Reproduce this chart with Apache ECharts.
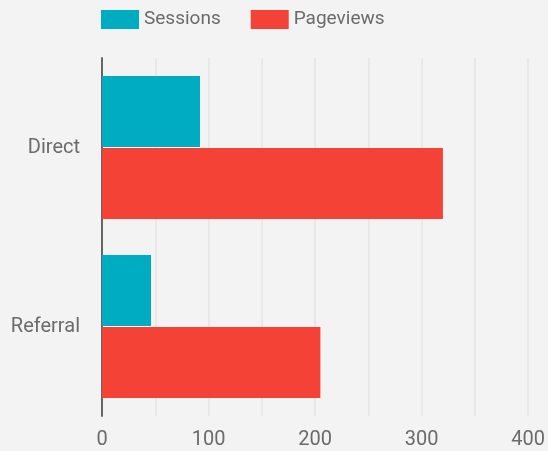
<!DOCTYPE html>
<html>
<head>
<meta charset="utf-8">
<script src="https://cdn.jsdelivr.net/npm/echarts@6/dist/echarts.min.js"></script>
<style>
html,body{margin:0;padding:0;background:#f3f3f3;}
#c{width:548px;height:451px;}
</style>
</head>
<body>
<div id="c"></div>
<script>
const categories = ['Direct', 'Referral'];
const sessions = [92, 46];
const pageviews = [320, 205];

const chart = echarts.init(document.getElementById('c'));
chart.setOption({
  backgroundColor: '#f3f3f3',
  animation: false,
  textStyle: { fontFamily: 'Roboto' },
  legend: {
    left: 96, top: 5,
    itemWidth: 38, itemHeight: 19, itemGap: 30,
    icon: 'rect',
    textStyle: { fontSize: 19, color: '#6b6b6b', fontFamily: 'Roboto' },
    data: ['Sessions', 'Pageviews']
  },
  grid: { left: 102, right: 17, top: 58, bottom: 35, containLabel: false },
  xAxis: {
    type: 'value', min: 0, max: 400, interval: 50,
    axisLine: { show: false }, axisTick: { show: false },
    axisLabel: {
      fontSize: 20, color: '#6b6b6b', margin: 14, fontFamily: 'Roboto',
      formatter: v => (v % 100 === 0 ? String(v) : '')
    },
    splitLine: { lineStyle: { color: '#e5e5e5', width: 1.5 } }
  },
  yAxis: {
    type: 'category', data: categories, inverse: true,
    axisLine: { lineStyle: { color: '#666', width: 2 } },
    axisTick: { show: false },
    axisLabel: { fontSize: 20, color: '#6b6b6b', margin: 22, fontFamily: 'Roboto' },
    splitLine: { show: false }
  },
  series: [
    { name: 'Sessions', type: 'bar', data: sessions, barGap: '1.5%', barCategoryGap: '20%',
      itemStyle: { color: '#00acc1' } },
    { name: 'Pageviews', type: 'bar', data: pageviews, barGap: '1.5%', barCategoryGap: '20%',
      itemStyle: { color: '#f44336' } }
  ]
});
</script>
</body>
</html>
